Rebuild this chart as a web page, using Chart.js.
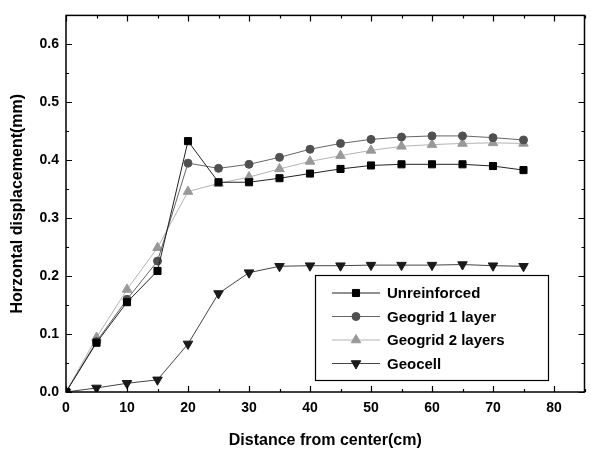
<!DOCTYPE html>
<html>
<head>
<meta charset="utf-8">
<script src="https://cdn.jsdelivr.net/npm/chart.js@4.4.1/dist/chart.umd.min.js"></script>
<style>
  html, body { margin: 0; padding: 0; background: #fff; }
  #wrap { width: 591px; height: 452px; }
</style>
</head>
<body>
<div id="wrap"><canvas id="grafico" width="591" height="452"></canvas></div>
<script>
// distancia desde el centro (cm)
const distancias = [0, 5, 10, 15, 20, 25, 30, 35, 40, 45, 50, 55, 60, 65, 70, 75];

// desplazamiento horizontal (mm)
const sinRefuerzo = [0, 0.085, 0.155, 0.209, 0.433, 0.362, 0.362, 0.369, 0.377, 0.385, 0.391, 0.393, 0.393, 0.393, 0.390, 0.383];
const geomalla1 = [0, 0.087, 0.160, 0.226, 0.395, 0.386, 0.393, 0.405, 0.419, 0.429, 0.436, 0.440, 0.442, 0.442, 0.439, 0.435];
const geomalla2 = [0, 0.094, 0.177, 0.249, 0.346, 0.360, 0.371, 0.385, 0.398, 0.408, 0.417, 0.424, 0.427, 0.429, 0.430, 0.429];
const geocelda = [0, 0.007, 0.015, 0.021, 0.083, 0.170, 0.206, 0.217, 0.218, 0.218, 0.219, 0.219, 0.219, 0.220, 0.218, 0.217];

const etiquetas = ["Unreinforced", "Geogrid 1 layer", "Geogrid 2 layers", "Geocell"];

const fuente = "'Liberation Sans', Arial, sans-serif";

function puntos(serie) {
    return distancias.map((d, i) => ({ x: d, y: serie[i] }));
}

// marco y marcas de escala hacia adentro (mayores y menores)
const marcoPlugin = {
    id: 'marco',
    afterDraw(chart) {
        const ctx = chart.ctx;
        const a = chart.chartArea;
        const sx = chart.scales.x, sy = chart.scales.y;
        ctx.save();
        ctx.strokeStyle = '#000';
        ctx.lineWidth = 1.5;
        ctx.strokeRect(a.left, a.top, a.right - a.left, a.bottom - a.top);
        ctx.lineWidth = 1.2;
        ctx.beginPath();
        for (let i = 0; i <= 17; i++) {
            const px = Math.round(sx.getPixelForValue(i * 5)) + 0.5;
            const l = (i % 2 === 0) ? 6 : 3;
            ctx.moveTo(px, a.bottom); ctx.lineTo(px, a.bottom - l);
            ctx.moveTo(px, a.top); ctx.lineTo(px, a.top + l);
        }
        for (let j = 0; j <= 13; j++) {
            const py = Math.round(sy.getPixelForValue(j * 0.05)) + 0.5;
            const l = (j % 2 === 0) ? 6 : 3;
            ctx.moveTo(a.left, py); ctx.lineTo(a.left + l, py);
            ctx.moveTo(a.right, py); ctx.lineTo(a.right - l, py);
        }
        ctx.stroke();
        ctx.restore();
    }
};

// leyenda dentro del area del grafico
const leyendaPlugin = {
    id: 'leyendaCaja',
    afterDraw(chart) {
        const ctx = chart.ctx;
        const x0 = 315, y0 = 275, w = 233, h = 105;
        ctx.save();
        ctx.fillStyle = '#fff';
        ctx.fillRect(x0, y0, w, h);
        ctx.strokeStyle = '#000';
        ctx.lineWidth = 1.2;
        ctx.strokeRect(x0 + 0.5, y0 + 0.5, w, h);
        chart.data.datasets.forEach((ds, i) => {
            const y = y0 + 18 + i * 23.5;
            ctx.strokeStyle = ds.borderColor;
            ctx.lineWidth = 1;
            ctx.beginPath();
            ctx.moveTo(332, y); ctx.lineTo(380, y);
            ctx.stroke();
            ctx.fillStyle = ds.pointBackgroundColor;
            ctx.strokeStyle = ds.pointBorderColor;
            Chart.helpers.drawPoint(ctx, {
                pointStyle: ds.pointStyle,
                rotation: ds.pointRotation || 0,
                radius: ds.pointRadius,
                borderWidth: 1
            }, 356, y);
            ctx.fillStyle = '#000';
            ctx.font = "bold 15px " + fuente;
            ctx.textBaseline = 'middle';
            ctx.fillText(ds.label, 387, y + 1);
        });
        ctx.restore();
    }
};

const ctx = document.getElementById('grafico').getContext('2d');
new Chart(ctx, {
    type: 'line',
    data: {
        datasets: [
            {
                label: etiquetas[0],
                data: puntos(sinRefuerzo),
                borderColor: '#222',
                borderWidth: 1,
                pointStyle: 'rect',
                pointRadius: 5,
                pointBackgroundColor: '#000',
                pointBorderColor: '#000',
                pointBorderWidth: 1
            },
            {
                label: etiquetas[1],
                data: puntos(geomalla1),
                borderColor: '#666',
                borderWidth: 1,
                pointStyle: 'circle',
                pointRadius: 4,
                pointBackgroundColor: '#505050',
                pointBorderColor: '#505050',
                pointBorderWidth: 1
            },
            {
                label: etiquetas[2],
                data: puntos(geomalla2),
                borderColor: '#b4b4b4',
                borderWidth: 1,
                pointStyle: 'triangle',
                pointRadius: 5.5,
                pointBackgroundColor: '#999',
                pointBorderColor: '#999',
                pointBorderWidth: 1
            },
            {
                label: etiquetas[3],
                data: puntos(geocelda),
                borderColor: '#444',
                borderWidth: 1,
                pointStyle: 'triangle',
                pointRotation: 180,
                pointRadius: 5.5,
                pointBackgroundColor: '#1a1a1a',
                pointBorderColor: '#1a1a1a',
                pointBorderWidth: 1
            }
        ]
    },
    options: {
        responsive: false,
        animation: false,
        layout: { padding: { top: 6, right: 1, left: 0, bottom: 0 } },
        plugins: {
            legend: { display: false },
            tooltip: { enabled: false }
        },
        scales: {
            x: {
                type: 'linear',
                min: 0,
                max: 85,
                grid: { display: false, drawTicks: false },
                border: { display: false },
                ticks: {
                    stepSize: 10,
                    includeBounds: false,
                    padding: 8,
                    color: '#000',
                    font: { family: fuente, size: 14, weight: 'bold' },
                    maxRotation: 0
                },
                title: {
                    display: true,
                    text: 'Distance from center(cm)',
                    color: '#000',
                    font: { family: fuente, size: 16, weight: 'bold' },
                    padding: { top: 4, bottom: 2 }
                },
                afterFit(scale) { scale.height = 60; }
            },
            y: {
                min: 0,
                max: 0.65,
                grid: { display: false, drawTicks: false },
                border: { display: false },
                ticks: {
                    stepSize: 0.1,
                    includeBounds: false,
                    padding: 7,
                    color: '#000',
                    font: { family: fuente, size: 14, weight: 'bold' },
                    callback: (v) => Number(v).toFixed(1)
                },
                title: {
                    display: true,
                    text: 'Horzontal displacement(mm)',
                    color: '#000',
                    font: { family: fuente, size: 16, weight: 'bold' },
                    padding: { top: 8, bottom: 4 }
                },
                afterFit(scale) { scale.width = 66; }
            }
        }
    },
    plugins: [marcoPlugin, leyendaPlugin]
});
</script>
</body>
</html>
